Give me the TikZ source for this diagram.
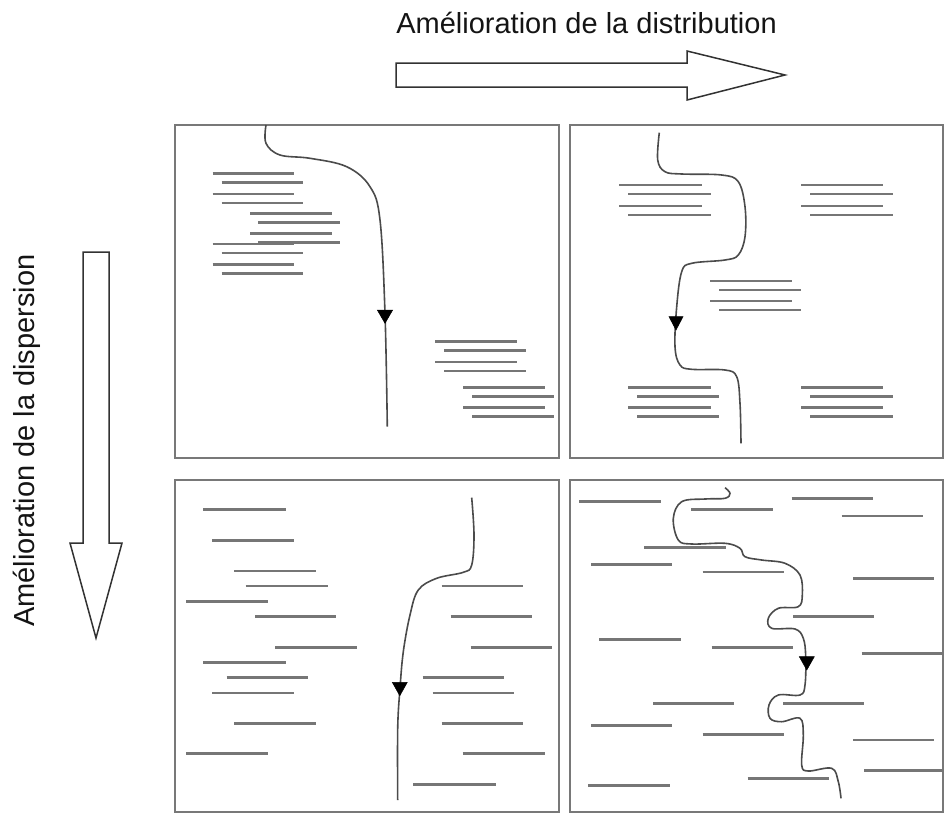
\documentclass[tikz,border=0pt]{standalone}
\usepackage{fontspec}
\setmainfont{Liberation Sans}
\definecolor{panelc}{RGB}{120,120,120}
\definecolor{segc}{RGB}{118,118,118}
\definecolor{routec}{RGB}{75,75,75}
\definecolor{arrowc}{RGB}{50,50,50}
\definecolor{textc}{RGB}{20,20,20}
\begin{document}
\begin{tikzpicture}[x=1pt,y=-1pt,
  panel/.style={draw=panelc, line width=1.8pt},
  seg/.style={draw=segc, line width=2.5pt},
  route/.style={draw=routec, line width=1.6pt},
  tri/.style={fill=black, draw=black, line width=0.5pt, line join=miter},
  bigarrow/.style={draw=arrowc, fill=white, line width=1.5pt, line join=miter},
  lbl/.style={font=\fontsize{29}{34}\selectfont, text=textc, inner sep=0pt}
]
\useasboundingbox (0,0) rectangle (945,814);

% labels
\node[lbl, anchor=base] (tlabel) at (586.5,33) {Amélioration de la distribution};
\node[lbl, anchor=base, rotate=90] (vlabel) at (34,440.5) {Amélioration de la dispersion};

% big arrows
\draw[bigarrow] (396,63) -- (687,63) -- (687,51) -- (785,75) -- (687,100) -- (687,87) -- (396,87) -- cycle;
\draw[bigarrow] (83,252) -- (109,252) -- (109,543) -- (122,543) -- (96,638) -- (70,543) -- (83,543) -- cycle;

% panels
\draw[panel] (175,125) rectangle (559,458);
\draw[panel] (570,125) rectangle (943,458);
\draw[panel] (175,480) rectangle (559,812);
\draw[panel] (570,480) rectangle (943,812);

% ---------- panel 1 ----------
\foreach \xa/\xb/\y in {212.7/294.3/173.3, 221.7/303.3/182.7, 212.7/294.3/194, 221.7/303.3/203,
  250/331.7/213.3, 258.3/340/222.3, 250/331.7/233.7, 258.3/340/242.7,
  212.7/294.3/244, 221.7/303.3/253, 212.7/294.3/264.3, 221.7/303.3/273.3,
  435/516.7/341.7, 444/526/350.7, 435/516.7/362, 444/526/371,
  463.3/545/387.7, 472.3/554/396.7, 463.3/545/407.7, 472.3/554/416.7}
  \draw[seg] (\xa,\y) -- (\xb,\y);
\draw[route] plot[smooth, tension=0.6] coordinates {(266,125) (266,143.3) (280,155) (310,158.3) (346.7,166.7) (370,186.7) (380,220) (385,313.3) (387.3,426.7)};
\fill[tri] (377.3,310) -- (392.7,310) -- (385,323.3) -- cycle;

% ---------- panel 2 ----------
\foreach \xa/\xb/\y in {619.3/701.7/185, 628.3/710.7/194, 619.3/701.7/206, 628.3/710.7/215,
  801/883.3/185, 810.3/892.7/194, 801/883.3/206, 810.3/892.7/215,
  710/791.7/281, 719/800.7/290, 710/791.7/301, 719/800.7/310,
  628.3/710.7/387.3, 637.3/719.3/396.7, 628.3/710.7/407.7, 637.3/719.3/416.7,
  801/883.3/387.3, 810.3/892.7/396.7, 801/883.3/407.7, 810.3/892.7/416.7}
  \draw[seg] (\xa,\y) -- (\xb,\y);
\draw[route] plot[smooth, tension=0.6] coordinates {(659.3,132.7) (657.7,160) (665,171.7) (681.7,174) (721.7,175) (738.3,181.7) (745,206.7) (745,236.7) (738.3,255) (725,260) (691.7,263.3) (681.7,271.7) (676.7,306.7) (675,346.7) (680,365) (691.7,369.3) (725,370) (736.7,376.7) (740,403.3) (741,443.3)};
\fill[tri] (669,316.7) -- (683,316.7) -- (676,330) -- cycle;

% ---------- panel 3 ----------
\foreach \xa/\xb/\y in {203.3/285.7/509.3, 212.3/294.3/540.3, 234.3/316/571, 245.7/327.7/586,
  186/268.3/601.3, 255/336/616.7, 275/356.7/647.3, 203.3/285.7/662.3,
  226.7/308.3/677.7, 212.3/294.3/693, 234.3/316/723.3, 186/268.3/753.7,
  441.7/523.3/586, 450.7/532.3/616.7, 470.7/552.3/647.3, 422.7/504/677.7,
  432.7/514.3/693, 441.7/523.3/723.3, 462.7/545/753.7, 413.3/495.7/784.3}
  \draw[seg] (\xa,\y) -- (\xb,\y);
\draw[route] plot[smooth, tension=0.6] coordinates {(471.7,497.7) (474,535) (471.7,565) (463.3,572.3) (436.7,578.3) (418.3,590) (410,615) (403.3,651.7) (400,688.3) (397.7,728.3) (397.7,800)};
\fill[tri] (392.3,682.3) -- (407.3,682.3) -- (399.8,695.7) -- cycle;

% ---------- panel 4 ----------
\foreach \xa/\xb/\y in {579/660.7/501.7, 691/772.7/509.3, 791.7/873.3/498.3, 841.7/922.7/516,
  644.3/726/547.7, 591/672.3/564.3, 702.7/784.3/572, 853.3/934.3/578.3,
  793.3/874.3/616.7, 599.3/681/639.3, 711.7/793.3/647.3, 861.7/943.3/653.3,
  653.3/734.3/703.3, 783.3/864.3/703.3, 591/672.3/725.7, 702.7/784.3/734.3,
  853.3/934.3/740, 864.3/943/770.3, 747.7/829/778.3, 588.3/670/785.7}
  \draw[seg] (\xa,\y) -- (\xb,\y);
\draw[route] plot[smooth, tension=0.6] coordinates {(725,487.7) (730,493.3) (725,498.3) (705,499) (681.7,501.7) (673.3,518.3) (678.3,540) (691.7,544) (725,543.3) (740,548.3) (745,556.7) (761.7,560) (785,563.3) (800,575) (802.3,595) (798.3,606.7) (778.3,608.3) (768.3,618.3) (771.7,628.3) (795,629) (803.3,638.3) (805.7,656.7) (805,685) (800,695) (778.3,695) (769,705) (770,718.3) (781.7,721.7) (800,718.3) (803.3,735) (801.7,765) (808.3,771) (831.7,768.3) (838.3,781.7) (841,798.3)};
\fill[tri] (799.3,656.7) -- (814.3,656.7) -- (806.8,670) -- cycle;
\end{tikzpicture}
\end{document}
